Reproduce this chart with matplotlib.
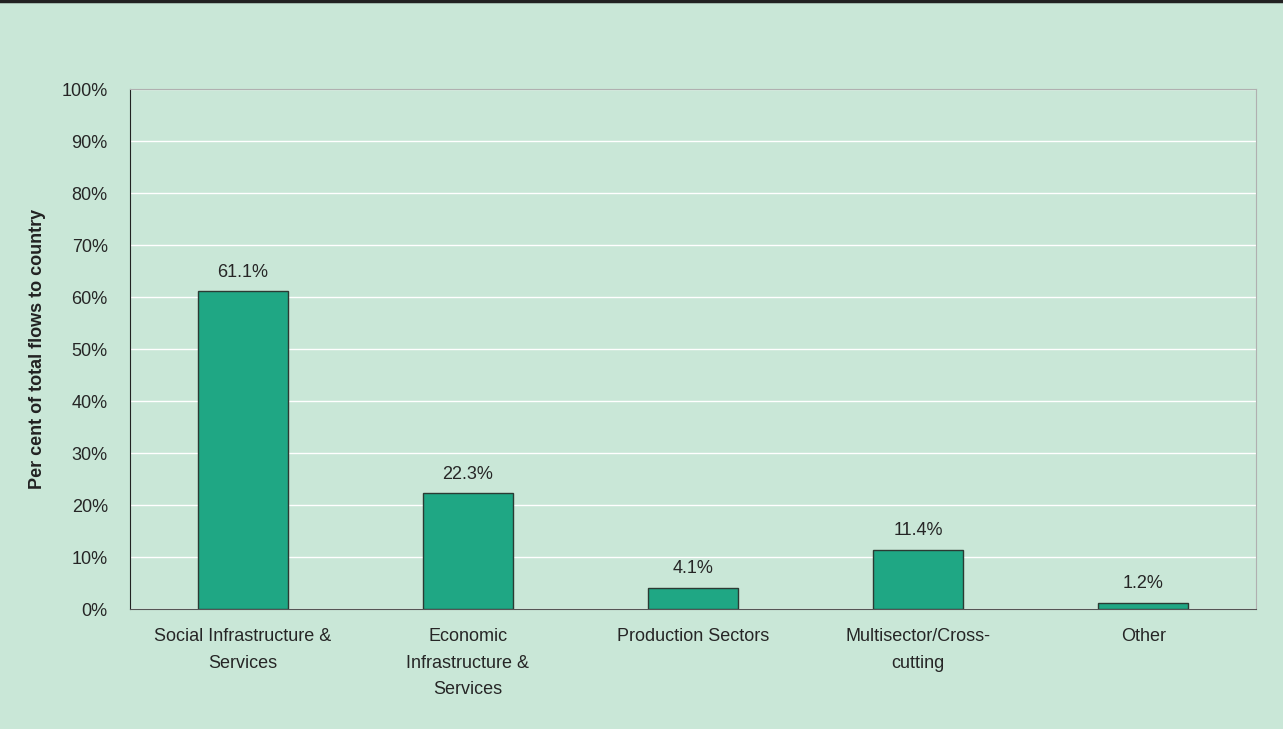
import matplotlib.pyplot as plt
from matplotlib.lines import Line2D
import numpy as np

plt.rcParams['font.family'] = ['Liberation Sans', 'DejaVu Sans']

categories = ["Social Infrastructure &\nServices", "Economic\nInfrastructure &\nServices",
              "Production Sectors", "Multisector/Cross-\ncutting", "Other"]
values = [61.1, 22.3, 4.1, 11.4, 1.2]
yticks = [0, 10, 20, 30, 40, 50, 60, 70, 80, 90, 100]

bg = "#c9e7d7"
bar_col = "#1fa784"
fs = 13

fig = plt.figure(figsize=(12.83, 7.29), dpi=100, facecolor=bg)
ax = fig.add_axes([130/1283, 1-609/729, (1256-130)/1283, (609-89)/729])
ax.set_facecolor(bg)

x = np.arange(len(categories))
ax.bar(x, values, width=0.4, color=bar_col, edgecolor="#2b3a33", linewidth=1.0, zorder=3)
for xi, v in zip(x, values):
    ax.text(xi, v + 2.0, f"{v:.1f}%", ha="center", va="bottom", fontsize=fs, color="#262626")

ax.set_xlim(-0.5, len(categories) - 0.5)
ax.set_ylim(0, 100)
ax.set_yticks(yticks)
ax.set_yticklabels([f"{t}%" for t in yticks], fontsize=fs, color="#262626")
ax.set_xticks(x)
ax.set_xticklabels(categories, fontsize=fs, color="#262626", linespacing=1.7)
ax.tick_params(axis="x", length=0, pad=14)
ax.tick_params(axis="y", length=0, pad=16)
ax.grid(axis="y", color="white", linewidth=1.0, zorder=0)

ax.spines["left"].set_color("#222222")
ax.spines["bottom"].set_color("#555555")
ax.spines["top"].set_color("#b0b0b0")
ax.spines["right"].set_color("#b0b0b0")

ax.set_ylabel("Per cent of total flows to country", fontsize=fs, fontweight="bold",
              color="#222222", labelpad=11)

fig.add_artist(Line2D([0, 1], [0.998, 0.998], transform=fig.transFigure, color="#222222", linewidth=2.5))

fig.savefig("out.png", dpi=100, facecolor=bg)
